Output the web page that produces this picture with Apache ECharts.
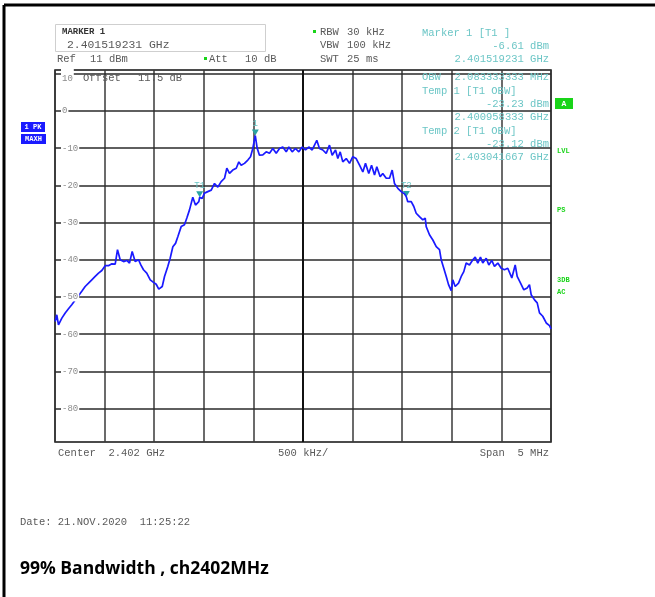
<!DOCTYPE html>
<html>
<head>
<meta charset="utf-8">
<script src="https://cdn.jsdelivr.net/npm/echarts@6/dist/echarts.min.js"></script>
<style>
  html, body { margin: 0; padding: 0; background: #fff; }
  #chart { width: 655px; height: 597px; }
</style>
</head>
<body>
<div id="chart"></div>
<script>
// Spectrum trace: frequency in MHz, level in dBm (max-hold peak trace)
const freqMHz = [
  2399.502, 2399.518, 2399.535, 2399.569, 2399.603, 2399.636, 2399.669, 2399.704, 2399.737, 2399.770,
  2399.804, 2399.838, 2399.871, 2399.905, 2399.939, 2399.972, 2400.006, 2400.039, 2400.073, 2400.107,
  2400.130, 2400.157, 2400.191, 2400.224, 2400.251, 2400.278, 2400.308, 2400.342, 2400.365, 2400.392,
  2400.425, 2400.460, 2400.493, 2400.520, 2400.546, 2400.581, 2400.604, 2400.637, 2400.661, 2400.688,
  2400.715, 2400.738, 2400.772, 2400.805, 2400.829, 2400.856, 2400.889, 2400.916, 2400.950, 2400.958,
  2400.984, 2401.007, 2401.040, 2401.075, 2401.108, 2401.141, 2401.175, 2401.209, 2401.232, 2401.259,
  2401.292, 2401.327, 2401.353, 2401.377, 2401.410, 2401.444, 2401.471, 2401.494, 2401.519, 2401.538,
  2401.561, 2401.595, 2401.629, 2401.662, 2401.696, 2401.730, 2401.763, 2401.796, 2401.831, 2401.857,
  2401.891, 2401.924, 2401.958, 2401.992, 2402.025, 2402.058, 2402.093, 2402.116, 2402.139, 2402.166,
  2402.200, 2402.234, 2402.267, 2402.294, 2402.328, 2402.351, 2402.375, 2402.401, 2402.436, 2402.469,
  2402.502, 2402.536, 2402.570, 2402.603, 2402.630, 2402.663, 2402.691, 2402.721, 2402.744, 2402.778,
  2402.804, 2402.839, 2402.872, 2402.899, 2402.922, 2402.956, 2402.990, 2403.023, 2403.042, 2403.056,
  2403.091, 2403.117, 2403.141, 2403.174, 2403.208, 2403.232, 2403.242, 2403.275, 2403.309, 2403.343,
  2403.376, 2403.393, 2403.419, 2403.444, 2403.467, 2403.494, 2403.510, 2403.534, 2403.568, 2403.595,
  2403.621, 2403.645, 2403.678, 2403.712, 2403.736, 2403.762, 2403.789, 2403.812, 2403.847, 2403.873,
  2403.903, 2403.930, 2403.964, 2403.998, 2404.031, 2404.064, 2404.105, 2404.139, 2404.159, 2404.193,
  2404.226, 2404.260, 2404.283, 2404.300, 2404.334, 2404.361, 2404.384, 2404.417, 2404.452, 2404.485,
  2404.500
];
const levelDbm = [
  -56.6, -54.8, -57.5, -55.7, -54.3, -53.2, -52.1, -50.8, -49.7, -48.5,
  -47.2, -46.3, -45.4, -44.5, -43.6, -42.9, -41.6, -41.6, -41.1, -41.2,
  -37.3, -40.0, -40.5, -40.2, -40.9, -37.8, -40.5, -40.0, -41.4, -42.7,
  -43.6, -45.4, -46.1, -46.6, -47.9, -47.2, -44.5, -41.8, -39.6, -36.5,
  -35.6, -33.8, -31.1, -30.6, -28.8, -26.6, -23.2, -25.3, -24.4, -23.23,
  -23.5, -22.1, -21.7, -21.3, -19.5, -20.5, -19.0, -18.1, -15.4, -16.8,
  -15.9, -15.4, -13.7, -14.6, -14.1, -13.2, -12.3, -10.1, -6.61, -10.0,
  -11.9, -11.8, -11.0, -11.4, -10.1, -11.4, -10.1, -9.7, -11.0, -9.7,
  -11.0, -10.1, -11.0, -9.7, -10.5, -9.7, -10.5, -9.2, -7.9, -10.1,
  -10.5, -11.4, -9.2, -11.9, -10.5, -12.8, -11.0, -13.7, -12.8, -14.1,
  -12.3, -12.8, -14.6, -16.4, -14.1, -16.8, -14.6, -17.2, -15.0, -17.7,
  -16.8, -18.1, -18.1, -15.9, -19.5, -20.8, -21.7, -22.3, -23.12, -24.4,
  -24.4, -25.7, -27.5, -28.4, -29.3, -28.8, -31.1, -33.3, -34.7, -36.5,
  -37.3, -40.0, -42.3, -44.5, -46.7, -48.3, -45.4, -47.2, -46.3, -44.5,
  -43.2, -40.9, -41.4, -40.0, -39.3, -40.9, -39.3, -40.9, -39.6, -41.4,
  -40.2, -41.8, -40.9, -42.3, -42.7, -42.3, -44.9, -41.4, -44.5, -46.3,
  -48.1, -47.6, -46.7, -49.4, -50.8, -51.6, -54.3, -55.2, -57.0, -57.7,
  -58.6
];

// Markers placed on the trace
const markerNames = ['1', 'T1', 'T2'];
const markerFreqMHz = [2401.519231, 2400.958333, 2403.041667];
const markerLevelDbm = [-6.61, -23.23, -23.12];

// Axis settings
const refLevel = 11;          // top of screen, dBm
const bottomLevel = -89;      // bottom of screen, dBm
const levelTicks = [10, 0, -10, -20, -30, -40, -50, -60, -70, -80];
const startMHz = 2399.5;
const stopMHz = 2404.5;
const divMHz = 0.5;

const mono = '"Liberation Mono", "DejaVu Sans Mono", monospace';
const grey = '#5a5a5a';
const teal = '#6cc6c6';
const green = '#19d419';
const blue = '#1a1aff';

const chart = echarts.init(document.getElementById('chart'), null, { renderer: 'canvas' });

function txt(x, y, text, opts) {
  opts = opts || {};
  return {
    type: 'text', x: x, y: y, z: 50,
    style: {
      text: text,
      font: (opts.weight || 'normal') + ' ' + (opts.size || 10) + 'px ' + (opts.family || mono),
      fill: opts.color || grey,
      align: opts.align || 'left',
      verticalAlign: 'middle'
    }
  };
}
function box(x, y, w, h, fill, stroke) {
  return {
    type: 'rect', z: 40,
    shape: { x: x, y: y, width: w, height: h },
    style: { fill: fill || 'none', stroke: stroke || 'none', lineWidth: 1 }
  };
}

const graphics = [
  // outer frame (top and left edges)
  { type: 'line', z: 60, shape: { x1: 4, y1: 5, x2: 655, y2: 5 }, style: { stroke: '#000', lineWidth: 3 } },
  { type: 'line', z: 60, shape: { x1: 4, y1: 5, x2: 4, y2: 597 }, style: { stroke: '#000', lineWidth: 3 } },

  // marker box
  box(55.5, 24.5, 210, 27, '#fff', '#cfcfcf'),
  txt(62, 32, 'MARKER 1', { weight: 'bold', size: 9, color: '#333' }),
  txt(67, 45, '2.401519231 GHz', { size: 11.4 }),
  txt(57, 59, 'Ref', { size: 10.5 }),
  txt(90, 59, '11 dBm', { size: 10.5 }),
  box(204, 57, 3, 3, green),
  txt(209, 59, 'Att', { size: 10.5 }),
  txt(245, 59, '10 dB', { size: 10.5 }),

  // sweep settings
  box(313, 30, 3, 3, green),
  txt(320, 32, 'RBW', { size: 10.5 }),
  txt(347, 32, '30 kHz', { size: 10.5 }),
  txt(320, 45, 'VBW', { size: 10.5 }),
  txt(347, 45, '100 kHz', { size: 10.5 }),
  txt(320, 59, 'SWT', { size: 10.5 }),
  txt(347, 59, '25 ms', { size: 10.5 }),

  // marker readouts
  txt(422, 33, 'Marker 1 [T1 ]', { size: 10.5, color: teal }),
  txt(549, 46, '-6.61 dBm', { size: 10.5, color: teal, align: 'right' }),
  txt(549, 59, '2.401519231 GHz', { size: 10.5, color: teal, align: 'right' }),
  txt(422, 77, 'OBW', { size: 10.5, color: teal }),
  txt(549, 77, '2.083333333 MHz', { size: 10.5, color: teal, align: 'right' }),
  txt(422, 91, 'Temp 1 [T1 OBW]', { size: 10.5, color: teal }),
  txt(549, 104, '-23.23 dBm', { size: 10.5, color: teal, align: 'right' }),
  txt(549, 117, '2.400958333 GHz', { size: 10.5, color: teal, align: 'right' }),
  txt(422, 131, 'Temp 2 [T1 OBW]', { size: 10.5, color: teal }),
  txt(549, 144, '-23.12 dBm', { size: 10.5, color: teal, align: 'right' }),
  txt(549, 157, '2.403041667 GHz', { size: 10.5, color: teal, align: 'right' }),

  // offset note on the top row
  txt(83, 78, 'Offset', { size: 10.5 }),
  txt(138, 78, '11.5 dB', { size: 10.5 }),

  // trace annotations on the left
  box(21, 122, 24, 10, blue),
  txt(33, 127.5, '1 PK', { size: 7, weight: 'bold', color: '#fff', align: 'center' }),
  box(21, 134, 25, 10, blue),
  txt(33.5, 139.5, 'MAXH', { size: 7, weight: 'bold', color: '#fff', align: 'center' }),

  // status flags on the right
  box(555, 98, 18, 11, green),
  txt(564, 104, 'A', { size: 8, weight: 'bold', color: '#fff', align: 'center' }),
  txt(557, 151, 'LVL', { size: 7, weight: 'bold', color: green }),
  txt(557, 210, 'PS', { size: 7, weight: 'bold', color: green }),
  txt(557, 280, '3DB', { size: 7, weight: 'bold', color: green }),
  txt(557, 292, 'AC', { size: 7, weight: 'bold', color: green }),

  // frequency axis notes
  txt(58, 453, 'Center  2.402 GHz', { size: 10.5 }),
  txt(278, 453, '500 kHz/', { size: 10.5 }),
  txt(549, 453, 'Span  5 MHz', { size: 10.5, align: 'right' }),

  // footer
  txt(20, 522, 'Date: 21.NOV.2020  11:25:22', { size: 10.5 }),
  txt(20, 569, '99% Bandwidth , ch2402MHz', { size: 17.5, weight: 'bold', family: '"Open Sans", "Liberation Sans", sans-serif', color: '#000' })
];

const traceData = freqMHz.map((f, i) => [f, levelDbm[i]]);

const gridLines = levelTicks.map(v => ({ yAxis: v }));
gridLines.push({ xAxis: 2402, lineStyle: { color: '#111', width: 2 } });

chart.setOption({
  animation: false,
  backgroundColor: '#fff',
  grid: {
    left: 55, top: 70, width: 496, height: 372,
    show: true, borderColor: '#111', borderWidth: 1.5, backgroundColor: 'transparent'
  },
  xAxis: {
    type: 'value',
    min: startMHz, max: stopMHz, interval: divMHz,
    axisLine: { show: false },
    axisTick: { show: false },
    axisLabel: { show: false },
    splitLine: { show: true, lineStyle: { color: '#3a3a3a', width: 1.5 } }
  },
  yAxis: {
    type: 'value',
    min: bottomLevel, max: refLevel,
    z: 10,
    axisLine: { show: false },
    axisTick: { show: false },
    splitLine: { show: false },
    axisLabel: {
      inside: true,
      customValues: levelTicks,
      margin: 6,
      color: '#8a8a8a',
      fontFamily: mono,
      fontSize: 9,
      backgroundColor: '#fff',
      padding: [0, 1, 0, 1],
      formatter: v => (v === 10 ? '{top|10}' : String(v)),
      rich: { top: { padding: [9, 0, 0, 0], color: '#8a8a8a', fontFamily: mono, fontSize: 9 } }
    }
  },
  graphic: graphics,
  series: [{
    type: 'line',
    data: traceData,
    showSymbol: false,
    symbol: 'none',
    z: 5,
    lineStyle: { color: blue, width: 1.7 },
    markLine: {
      silent: true,
      symbol: ['none', 'none'],
      label: { show: false },
      z: 1,
      lineStyle: { color: '#2a2a2a', width: 1.5, type: 'solid' },
      data: gridLines
    },
    markPoint: {
      silent: true,
      symbol: 'triangle',
      symbolRotate: 180,
      symbolSize: [7, 6],
      symbolOffset: [0, -3],
      itemStyle: { color: '#2aa3a3' },
      label: {
        show: true, position: 'top', distance: 1,
        color: teal, fontFamily: mono, fontSize: 9,
        formatter: p => p.name
      },
      data: markerNames.map((n, i) => ({ name: n, coord: [markerFreqMHz[i], markerLevelDbm[i]] }))
    }
  }]
});
</script>
</body>
</html>
